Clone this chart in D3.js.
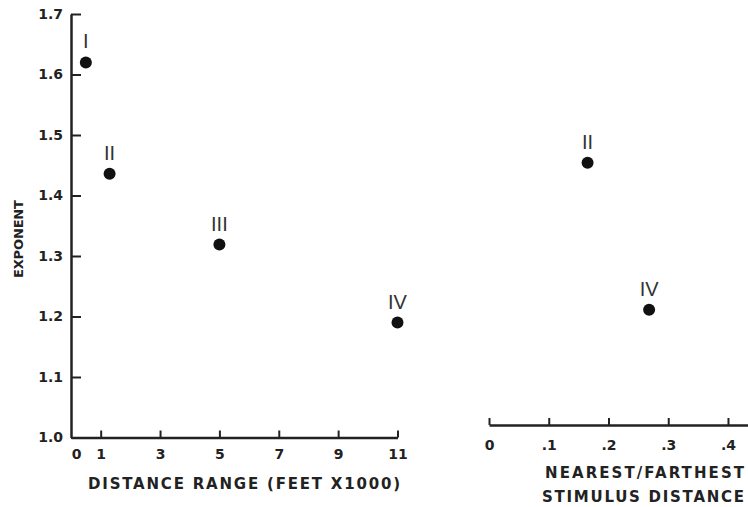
<!DOCTYPE html>
<html>
<head>
<meta charset="utf-8">
<script src="https://cdn.jsdelivr.net/npm/d3@7"></script>
<style>
	body { margin: 0; background: #fff; }
	svg { display: block; }
	.tickText { font-family: "DejaVu Sans", sans-serif; font-weight: bold; font-size: 14px; fill: #222; }
	.title { font-family: "DejaVu Sans", sans-serif; font-weight: bold; font-size: 15px; fill: #222; }
	.ptLabel { font-family: "Liberation Sans", sans-serif; font-size: 20px; fill: #333; }
</style>
</head>
<body>
<div id="container"></div>
<script>
// left panel: distance range
var rangeNames = ["I", "II", "III", "IV"];
var rangeX = [0.5, 1.3, 5, 11];
var rangeExp = [1.62, 1.436, 1.319, 1.19];

// right panel: nearest/farthest ratio
var ratioNames = ["II", "IV"];
var ratioX = [0.165, 0.268];
var ratioExp = [1.454, 1.211];

var yTicks = [1.0, 1.1, 1.2, 1.3, 1.4, 1.5, 1.6, 1.7];
var rangeTicks = [0, 1, 3, 5, 7, 9, 11];
var ratioTicks = [0, 0.1, 0.2, 0.3, 0.4];

var w = 748, h = 507;

var svg = d3.select("#container")
	.append("svg")
	.attr("width", w)
	.attr("height", h);

var y = d3.scaleLinear().domain([1.0, 1.7]).range([437.5, 14]);
var xLeft = d3.scaleLinear().domain([0, 11]).range([71, 397.5]);
var xRight = d3.scaleLinear().domain([0, 0.4335]).range([489, 748]);

function styleAxis(g){
	g.select(".domain").attr("stroke", "#222").attr("stroke-width", 2.5);
	g.selectAll(".tick line").attr("stroke", "#222").attr("stroke-width", 2);
	g.selectAll(".tick text").attr("class", "tickText");
}

//y axis, ticks pointing inward
svg.append("g")
	.attr("transform", "translate(71,0)")
	.call(d3.axisLeft(y)
		.tickValues(yTicks)
		.tickSize(-10)
		.tickSizeOuter(0)
		.tickPadding(8)
		.tickFormat(d3.format(".1f")))
	.call(styleAxis);

//left x axis
var gx = svg.append("g")
	.attr("transform", "translate(0,437.5)")
	.call(d3.axisBottom(xLeft)
		.tickValues(rangeTicks)
		.tickSize(-7)
		.tickSizeOuter(0)
		.tickPadding(12)
		.tickFormat(d3.format("d")))
	.call(styleAxis);
gx.selectAll(".tick").filter(function(d){ return d === 0; })
	.select("line").remove();
gx.selectAll(".tick").filter(function(d){ return d === 0; })
	.select("text").attr("x", 5);

//right x axis
var gr = svg.append("g")
	.attr("transform", "translate(0,425)")
	.call(d3.axisBottom(xRight)
		.tickValues(ratioTicks)
		.tickSize(-7)
		.tickSizeOuter(0)
		.tickPadding(15)
		.tickFormat(function(d){ return d === 0 ? "0" : d3.format(".1f")(d).replace("0.", "."); }))
	.call(styleAxis);

//axis titles
svg.append("text")
	.attr("class", "title")
	.attr("transform", "translate(23,239) rotate(-90)")
	.attr("text-anchor", "middle")
	.attr("textLength", 78)
	.attr("lengthAdjust", "spacing")
	.style("font-size", "13px")
	.text("EXPONENT");

svg.append("text")
	.attr("class", "title")
	.attr("x", 88).attr("y", 489)
	.attr("textLength", 312)
	.attr("lengthAdjust", "spacing")
	.text("DISTANCE RANGE (FEET X1000)");

svg.append("text")
	.attr("class", "title")
	.attr("x", 545).attr("y", 478)
	.attr("textLength", 199)
	.attr("lengthAdjust", "spacing")
	.text("NEAREST/FARTHEST");

svg.append("text")
	.attr("class", "title")
	.attr("x", 542).attr("y", 502)
	.attr("textLength", 202)
	.attr("lengthAdjust", "spacing")
	.text("STIMULUS DISTANCE");

//points
function drawPoints(names, xs, ys, xScale){
	var g = svg.append("g");
	g.selectAll("circle")
		.data(names)
		.enter()
		.append("circle")
		.attr("cx", function(d, i){ return xScale(xs[i]); })
		.attr("cy", function(d, i){ return y(ys[i]); })
		.attr("r", 6)
		.attr("fill", "#111");

	g.selectAll("text")
		.data(names)
		.enter()
		.append("text")
		.attr("class", "ptLabel")
		.attr("text-anchor", "middle")
		.attr("x", function(d, i){ return xScale(xs[i]); })
		.attr("y", function(d, i){ return y(ys[i]) - 14; })
		.text(function(d){ return d; });
}

drawPoints(rangeNames, rangeX, rangeExp, xLeft);
drawPoints(ratioNames, ratioX, ratioExp, xRight);
</script>
</body>
</html>
